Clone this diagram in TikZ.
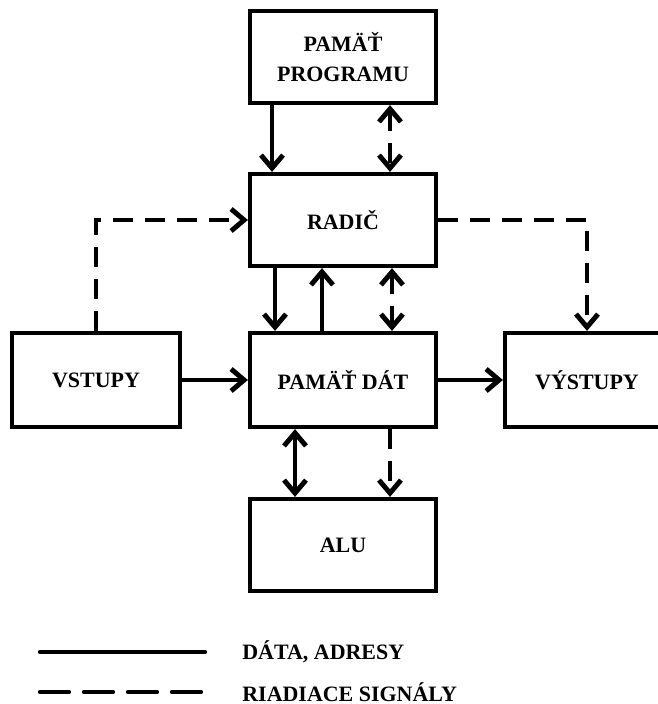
\documentclass[tikz,border=0pt]{standalone}
\usepackage{fontspec}
\setmainfont{Liberation Serif}
\usepackage{tikz}
\usetikzlibrary{arrows.meta}

\tikzset{
  hrot/.tip={Straight Barb[length=2.6mm, width=4.4mm, line width=2.8pt]},
  blok/.style={draw, line width=2.4pt, minimum width=3.72cm, minimum height=1.84cm,
    inner sep=0pt, align=center, font=\fontsize{12.5}{17}\selectfont\bfseries},
  data/.style={line width=2.4pt, -hrot},
  data2/.style={line width=2.4pt, hrot-hrot},
  riad/.style={data, dash pattern=on 0.4cm off 0.24cm},
  riad2/.style={data2, dash pattern=on 0.4cm off 0.24cm},
  popis/.style={anchor=west, inner sep=0pt, font=\fontsize{12.5}{14}\selectfont\bfseries}
}

\begin{document}
\begin{tikzpicture}[x=0.02cm, y=-0.02cm]
\useasboundingbox (0,0) rectangle (658,704);
\begin{scope}
\clip (0,0) rectangle (658,704);
% bloky
\node[blok] (prog) at (343,57) {PAMÄŤ\\PROGRAMU};
\node[blok] (radic) at (343,220) {RADIČ};
\node[blok, minimum height=1.88cm] (pdat) at (343,380) {PAMÄŤ DÁT};
\node[blok, minimum width=3.36cm, minimum height=1.88cm] (vstupy) at (96,380) {VSTUPY};
\node[blok, minimum width=3.28cm, minimum height=1.88cm] (vystupy) at (587,380) {VÝSTUPY};
\node[blok] (alu) at (343,545) {ALU};
\end{scope}

% prepojenia
\draw[data] ([xshift=-1.42cm]prog.south) -- ([xshift=-1.42cm]radic.north);
\draw[riad2] ([xshift=0.94cm]prog.south) -- ([xshift=0.94cm]radic.north);
\draw[data] ([xshift=-1.36cm]radic.south) -- ([xshift=-1.36cm]pdat.north);
\draw[data] ([xshift=-0.42cm]pdat.north) -- ([xshift=-0.42cm]radic.south);
\draw[riad2] ([xshift=0.98cm]radic.south) -- ([xshift=0.98cm]pdat.north);
\draw[riad] (vstupy.north) |- (radic.west);
\draw[riad] (radic.east) -| (vystupy.north);
\draw[data] (vstupy.east) -- (pdat.west);
\draw[data] (pdat.east) -- (vystupy.west);
\draw[data2] ([xshift=-0.96cm]pdat.south) -- ([xshift=-0.96cm]alu.north);
\draw[riad] ([xshift=0.94cm]pdat.south) -- ([xshift=0.94cm]alu.north);

% legenda
\coordinate (l1) at (40,652);
\coordinate (l2) at (40,692);
\draw[line width=2.4pt, line cap=round] (l1) -- ++(165,0);
\draw[line width=2.4pt, line cap=round, dash pattern=on 0.58cm off 0.3cm] (l2) -- ++(165,0);
\node[popis] (t1) at (242,652) {DÁTA, ADRESY};
\node[popis] (t2) at (242,692) {RIADIACE SIGNÁLY};
\end{tikzpicture}
\end{document}
